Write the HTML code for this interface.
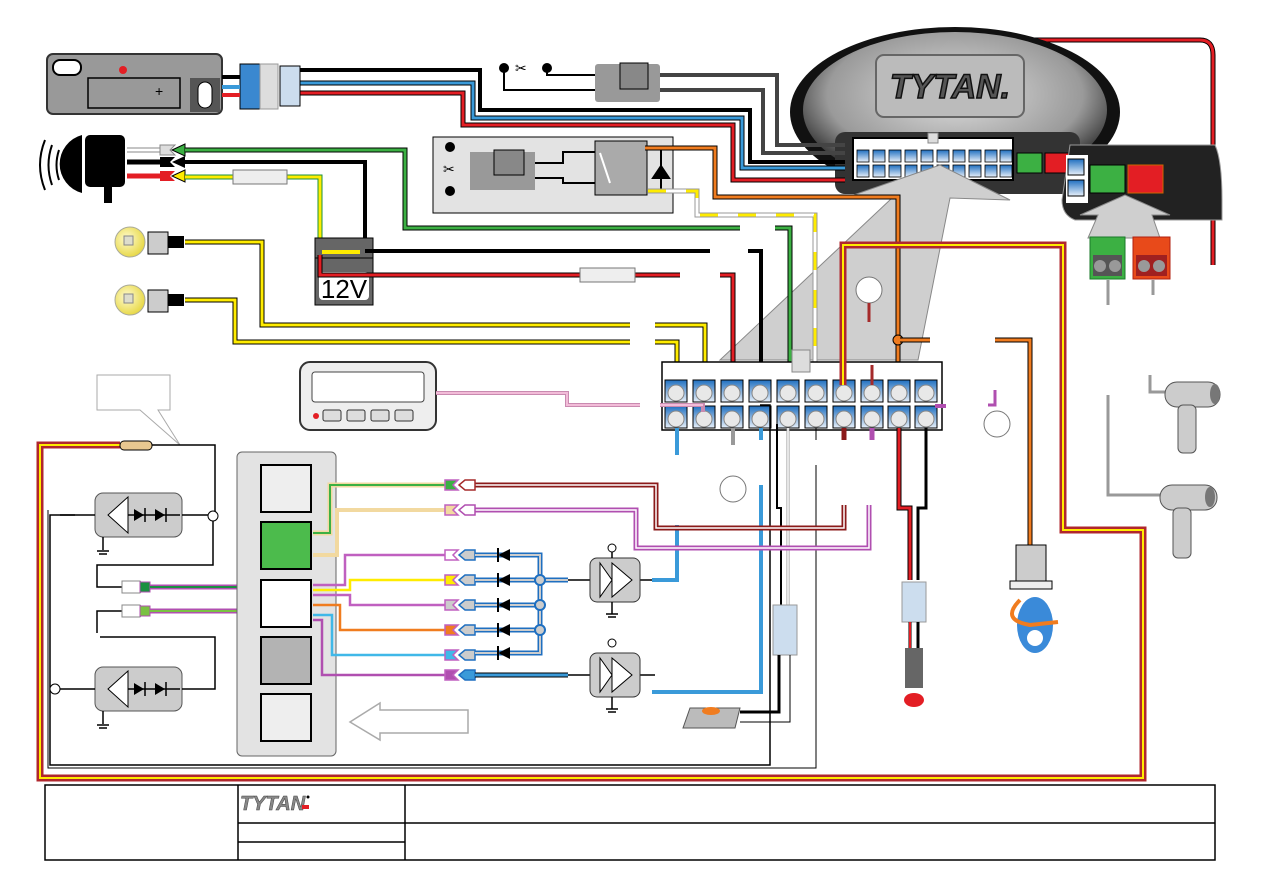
<!DOCTYPE html>
<html><head><meta charset="utf-8"><style>
html,body{margin:0;padding:0;background:#fff;width:1263px;height:893px;overflow:hidden}
svg{display:block;font-family:"Liberation Sans",sans-serif}
</style></head><body>
<svg width="1263" height="893" viewBox="0 0 1263 893" xmlns="http://www.w3.org/2000/svg">
<defs>
<radialGradient id="mod" cx="50%" cy="40%" r="60%"><stop offset="0" stop-color="#e0e0e0"/><stop offset="0.7" stop-color="#9a9a9a"/><stop offset="1" stop-color="#222"/></radialGradient>
<linearGradient id="pin" x1="0" y1="0" x2="0" y2="1"><stop offset="0" stop-color="#1f6fc0"/><stop offset="1" stop-color="#e8f0fa"/></linearGradient>
<radialGradient id="bulb" cx="40%" cy="40%" r="60%"><stop offset="0" stop-color="#fffbd0"/><stop offset="1" stop-color="#e8d94a"/></radialGradient>
</defs>
<g fill="none" stroke-linejoin="miter">

<!-- far right red -->
<path d="M1000,45 Q1010,40 1030,40 L1200,40 Q1213,40 1213,55 L1213,265" stroke="#000" stroke-width="5"/>
<path d="M1000,45 Q1010,40 1030,40 L1200,40 Q1213,40 1213,55 L1213,265" stroke="#e31e24" stroke-width="3"/>

<!-- module -->
<ellipse cx="955" cy="112" rx="165" ry="85" fill="#111"/>
<ellipse cx="955" cy="110" rx="152" ry="78" fill="url(#mod)"/>
<rect x="876" y="55" width="148" height="62" rx="8" fill="#bbb" stroke="#666" stroke-width="2"/>
<text x="950" y="98" font-size="34" font-weight="bold" font-style="italic" fill="#555" stroke="#111" stroke-width="1.5" text-anchor="middle">TYTAN.</text>
<rect x="835" y="132" width="245" height="62" rx="10" fill="#333"/>
<rect x="853" y="138" width="160" height="42" fill="#fff" stroke="#000" stroke-width="2"/>
<rect x="1017" y="153" width="25" height="20" fill="#3cb043" stroke="#000"/>
<rect x="1045" y="153" width="25" height="20" fill="#e31e24" stroke="#000"/>
<path d="M1070,145 L1215,145 Q1222,160 1222,200 L1222,220 L1075,220 Q1062,215 1062,200 Z" fill="#222" stroke="#999"/>
<rect x="1066" y="155" width="22" height="48" fill="#fff"/>
<rect x="1068" y="159" width="16" height="16" fill="url(#pin)" stroke="#000"/>
<rect x="1068" y="180" width="16" height="16" fill="url(#pin)" stroke="#000"/>
<rect x="1090" y="165" width="35" height="28" fill="#3cb043" stroke="#000"/>
<rect x="1128" y="165" width="35" height="28" fill="#e31e24" stroke="#c60"/>
<g fill="url(#pin)" stroke="#000" stroke-width="0.8">
<rect x="857" y="150" width="12" height="12"/><rect x="873" y="150" width="12" height="12"/><rect x="889" y="150" width="12" height="12"/><rect x="905" y="150" width="12" height="12"/><rect x="921" y="150" width="12" height="12"/><rect x="937" y="150" width="12" height="12"/><rect x="953" y="150" width="12" height="12"/><rect x="969" y="150" width="12" height="12"/><rect x="985" y="150" width="12" height="12"/><rect x="1000" y="150" width="12" height="12"/>
<rect x="857" y="165" width="12" height="12"/><rect x="873" y="165" width="12" height="12"/><rect x="889" y="165" width="12" height="12"/><rect x="905" y="165" width="12" height="12"/><rect x="921" y="165" width="12" height="12"/><rect x="937" y="165" width="12" height="12"/><rect x="953" y="165" width="12" height="12"/><rect x="969" y="165" width="12" height="12"/><rect x="985" y="165" width="12" height="12"/><rect x="1000" y="165" width="12" height="12"/>
</g>
<rect x="928" y="133" width="10" height="10" fill="#ddd" stroke="#888"/>

<!-- grey arrows (on top of module) -->
<polygon points="720,360 892,198 845,198 940,165 1010,200 950,198 918,360" fill="#cfcfcf" stroke="#888" stroke-width="1"/>
<polygon points="1088,238 1098,215 1080,215 1125,195 1170,215 1152,215 1160,238" fill="#cfcfcf" stroke="#888"/>

<!-- top wires to module -->
<path d="M300,70 L480,70 L480,110 L750,110 L750,162 L845,162" stroke="#000" stroke-width="4"/>
<path d="M300,83 L473,83 L473,118 L742,118 L742,168 L845,168" stroke="#000" stroke-width="5"/><path d="M300,83 L473,83 L473,118 L742,118 L742,168 L845,168" stroke="#3a9ad9" stroke-width="3"/>
<path d="M300,93 L463,93 L463,125 L733,125 L733,180 L845,180" stroke="#000" stroke-width="5"/><path d="M300,93 L463,93 L463,125 L733,125 L733,180 L845,180" stroke="#e31e24" stroke-width="3"/>
<path d="M660,75 L777,75 L777,145 L845,145" stroke="#444" stroke-width="4"/>
<path d="M660,90 L763,90 L763,153 L845,153" stroke="#444" stroke-width="4"/>
<circle cx="504" cy="68" r="5" fill="#000"/><circle cx="547" cy="68" r="5" fill="#000"/>
<text x="515" y="73" font-size="14" fill="#000">✂</text>
<path d="M504,68 L504,90 L597,90 M547,68 L547,75 L597,75" stroke="#000" stroke-width="2"/>
<rect x="595" y="64" width="65" height="38" rx="3" fill="#999"/><rect x="620" y="63" width="28" height="26" fill="#888" stroke="#000"/>

<!-- relay box -->
<rect x="433" y="137" width="240" height="76" fill="#e3e3e3" stroke="#000"/>
<circle cx="450" cy="147" r="5" fill="#000"/><circle cx="450" cy="191" r="5" fill="#000"/>
<text x="443" y="174" font-size="14" fill="#000">✂</text>
<rect x="470" y="152" width="65" height="38" fill="#999"/><rect x="494" y="150" width="30" height="25" fill="#888" stroke="#000"/>
<path d="M535,163 L563,163 L563,152 L595,152 M535,178 L563,178 L563,183 L595,183" stroke="#000" stroke-width="2"/>
<rect x="595" y="141" width="52" height="54" fill="#aaa" stroke="#000"/>
<path d="M600,153 L610,183" stroke="#fff" stroke-width="2"/>
<path d="M661,148 L661,190 M653,178 L669,178 L661,166 Z" stroke="#000" stroke-width="2" fill="#000"/>
<path d="M645,148 L715,148 L715,197 L898,197 L898,385" stroke="#000" stroke-width="5"/><path d="M645,148 L715,148 L715,197 L898,197 L898,385" stroke="#f07c1f" stroke-width="3"/>
<path d="M648,191 L697,191 L697,215 L815,215 L815,385" stroke="#999" stroke-width="5"/><path d="M648,191 L697,191 L697,215 L815,215 L815,385" stroke="#fff" stroke-width="3" /><path d="M648,191 L697,191 L697,215 L815,215 L815,385" stroke="#ffec00" stroke-width="3" stroke-dasharray="18,20"/>

<!-- fob -->
<rect x="47" y="54" width="175" height="60" rx="6" fill="#999" stroke="#333" stroke-width="2"/>
<rect x="53" y="60" width="28" height="15" rx="7" fill="#fff" stroke="#000" stroke-width="2"/>
<rect x="88" y="78" width="92" height="30" fill="#999" stroke="#000" stroke-width="1.5"/>
<circle cx="123" cy="70" r="4" fill="#e31e24"/>
<rect x="190" y="78" width="30" height="34" fill="#555"/><rect x="198" y="82" width="14" height="26" rx="7" fill="#fff" stroke="#000"/>
<text x="155" y="96" font-size="14" fill="#000">+</text>
<rect x="240" y="64" width="20" height="45" fill="#3a88d0" stroke="#000"/><rect x="260" y="64" width="18" height="45" fill="#ddd" stroke="#999"/><rect x="280" y="66" width="20" height="40" fill="#cde" stroke="#000"/>
<path d="M222,77 L240,77" stroke="#000" stroke-width="4"/><path d="M222,87 L240,87" stroke="#3a9ad9" stroke-width="4"/><path d="M222,95 L240,95" stroke="#e31e24" stroke-width="4"/>

<!-- siren -->
<path d="M45,140 Q35,165 45,190 M52,145 Q45,165 52,185 M59,150 Q54,165 59,180" stroke="#000" stroke-width="2"/>
<path d="M82,135 A30,30 0 0 0 82,193 Z" fill="#000"/>
<rect x="85" y="135" width="40" height="52" rx="5" fill="#000"/>
<rect x="104" y="165" width="8" height="38" fill="#000"/>
<path d="M127,150 L165,150" stroke="#888" stroke-width="5"/><path d="M127,150 L165,150" stroke="#fff" stroke-width="3"/>
<path d="M127,162 L165,162" stroke="#000" stroke-width="5"/>
<path d="M127,176 L165,176" stroke="#e31e24" stroke-width="5"/>
<polygon points="160,145 175,145 170,150 175,155 160,155" fill="#ddd" stroke="#888"/>
<polygon points="160,157 175,157 170,162 175,167 160,167" fill="#000"/>
<polygon points="160,171 175,171 170,176 175,181 160,181" fill="#e31e24"/>
<polygon points="185,144 172,150 185,156" fill="#3cb043" stroke="#000"/>
<polygon points="185,156 172,162 185,168" fill="#000"/>
<polygon points="185,170 172,176 185,182" fill="#ffec00" stroke="#000"/>
<path d="M185,150 L405,150 L405,228 L740,228" stroke="#000" stroke-width="5"/><path d="M185,150 L405,150 L405,228 L740,228" stroke="#3cb043" stroke-width="3"/>
<path d="M775,228 L790,228 L790,385" stroke="#000" stroke-width="5"/><path d="M775,228 L790,228 L790,385" stroke="#3cb043" stroke-width="3"/>
<path d="M185,162 L365,162 L365,250" stroke="#000" stroke-width="4"/>
<path d="M185,177 L320,177 L320,255" stroke="#1a9040" stroke-width="5"/><path d="M185,177 L320,177 L320,255" stroke="#ffec00" stroke-width="3"/>
<rect x="233" y="170" width="54" height="14" fill="#eee" stroke="#777"/>

<!-- battery -->
<rect x="315" y="238" width="58" height="20" fill="#666" stroke="#000"/>
<rect x="315" y="258" width="58" height="47" fill="#666" stroke="#000"/>
<rect x="319" y="272" width="50" height="28" rx="4" fill="#fff"/>
<text x="344" y="298" font-size="26" text-anchor="middle" fill="#000">12V</text>
<path d="M322,252 L360,252" stroke="#ffec00" stroke-width="4"/>
<path d="M320,255 L320,275 L580,275 M635,275 L680,275 M720,275 L733,275 L733,385" stroke="#000" stroke-width="5"/>
<path d="M320,255 L320,275 L580,275 M635,275 L680,275 M720,275 L733,275 L733,385" stroke="#e31e24" stroke-width="3"/>
<rect x="580" y="268" width="55" height="14" fill="#eee" stroke="#777"/>
<path d="M365,251 L710,251 M748,251 L761,251 L761,385" stroke="#000" stroke-width="4"/>

<!-- bulbs -->
<circle cx="130" cy="242" r="15" fill="url(#bulb)" stroke="#aa9"/><circle cx="130" cy="300" r="15" fill="url(#bulb)" stroke="#aa9"/>
<rect x="148" y="232" width="20" height="22" fill="#ccc" stroke="#000"/><rect x="148" y="290" width="20" height="22" fill="#ccc" stroke="#000"/>
<rect x="124" y="236" width="9" height="9" fill="#ddc" stroke="#888"/><rect x="124" y="294" width="9" height="9" fill="#ddc" stroke="#888"/>
<path d="M185,242 L262,242 L262,325 L630,325 M655,325 L705,325 L705,385" stroke="#000" stroke-width="5"/><path d="M185,242 L262,242 L262,325 L630,325 M655,325 L705,325 L705,385" stroke="#ffec00" stroke-width="3"/>
<path d="M185,300 L235,300 L235,342 L630,342 M655,342 L677,342 L677,385" stroke="#000" stroke-width="5"/><path d="M185,300 L235,300 L235,342 L630,342 M655,342 L677,342 L677,385" stroke="#ffec00" stroke-width="3"/>
<rect x="168" y="236" width="16" height="12" fill="#000"/><rect x="168" y="294" width="16" height="12" fill="#000"/>

<!-- main connector -->
<rect x="662" y="362" width="280" height="68" fill="#fff" stroke="#000" stroke-width="1.5"/>
<rect x="792" y="350" width="18" height="22" fill="#ddd" stroke="#888"/>
<g stroke="#000" stroke-width="1">
<rect x="665" y="380" width="22" height="22" fill="url(#pin)"/><rect x="693" y="380" width="22" height="22" fill="url(#pin)"/><rect x="721" y="380" width="22" height="22" fill="url(#pin)"/><rect x="749" y="380" width="22" height="22" fill="url(#pin)"/><rect x="777" y="380" width="22" height="22" fill="url(#pin)"/><rect x="805" y="380" width="22" height="22" fill="url(#pin)"/><rect x="833" y="380" width="22" height="22" fill="url(#pin)"/><rect x="861" y="380" width="22" height="22" fill="url(#pin)"/><rect x="888" y="380" width="22" height="22" fill="url(#pin)"/><rect x="915" y="380" width="22" height="22" fill="url(#pin)"/>
<rect x="665" y="406" width="22" height="22" fill="url(#pin)"/><rect x="693" y="406" width="22" height="22" fill="url(#pin)"/><rect x="721" y="406" width="22" height="22" fill="url(#pin)"/><rect x="749" y="406" width="22" height="22" fill="url(#pin)"/><rect x="777" y="406" width="22" height="22" fill="url(#pin)"/><rect x="805" y="406" width="22" height="22" fill="url(#pin)"/><rect x="833" y="406" width="22" height="22" fill="url(#pin)"/><rect x="861" y="406" width="22" height="22" fill="url(#pin)"/><rect x="888" y="406" width="22" height="22" fill="url(#pin)"/><rect x="915" y="406" width="22" height="22" fill="url(#pin)"/>
</g>
<g fill="#e8e8e8" stroke="#888"><circle cx="676" cy="393" r="8"/><circle cx="704" cy="393" r="8"/><circle cx="732" cy="393" r="8"/><circle cx="760" cy="393" r="8"/><circle cx="788" cy="393" r="8"/><circle cx="816" cy="393" r="8"/><circle cx="844" cy="393" r="8"/><circle cx="872" cy="393" r="8"/><circle cx="899" cy="393" r="8"/><circle cx="926" cy="393" r="8"/>
<circle cx="676" cy="419" r="8"/><circle cx="704" cy="419" r="8"/><circle cx="732" cy="419" r="8"/><circle cx="760" cy="419" r="8"/><circle cx="788" cy="419" r="8"/><circle cx="816" cy="419" r="8"/><circle cx="844" cy="419" r="8"/><circle cx="872" cy="419" r="8"/><circle cx="899" cy="419" r="8"/><circle cx="926" cy="419" r="8"/></g>
<path d="M844,365 L844,385" stroke="#a52a2a" stroke-width="4"/><path d="M872,365 L872,385" stroke="#a52a2a" stroke-width="3"/>
<path d="M935,406 L946,406" stroke="#b04fb0" stroke-width="4"/>
<path d="M988,405 L995,405 L995,390" stroke="#b04fb0" stroke-width="3"/>
<path d="M760,405 L770,405 L770,765 L50,765 L50,515 L75,515" stroke="#000" stroke-width="1.5"/>

<!-- orange circle and sensor -->
<circle cx="898" cy="340" r="5" fill="#f07c1f" stroke="#000"/>
<path d="M900,340 L930,340 M995,340 L1030,340 L1030,545" stroke="#000" stroke-width="5"/><path d="M900,340 L930,340 M995,340 L1030,340 L1030,545" stroke="#f07c1f" stroke-width="3"/>
<rect x="1016" y="545" width="30" height="36" fill="#ccc" stroke="#000"/><rect x="1010" y="581" width="42" height="8" fill="#eee" stroke="#000"/>
<ellipse cx="1035" cy="625" rx="18" ry="28" fill="#3a8ad9"/><circle cx="1035" cy="638" r="8" fill="#fff"/>
<path d="M1020,600 Q1000,620 1030,625 L1058,622" stroke="#f07c1f" stroke-width="4"/>

<!-- yellow/red outer -->
<path d="M843,385 L843,245 L1063,245 L1063,530 L1143,530 L1143,778 L40,778 L40,445 L120,445" stroke="#b0272d" stroke-width="7"/>
<path d="M843,385 L843,245 L1063,245 L1063,530 L1143,530 L1143,778 L40,778 L40,445 L120,445" stroke="#ffec00" stroke-width="2"/>
<circle cx="869" cy="290" r="13" fill="#fff" stroke="#777"/><path d="M869,303 L869,322" stroke="#a52a2a" stroke-width="3"/>
<circle cx="997" cy="424" r="13" fill="#fff" stroke="#777"/>
<circle cx="733" cy="489" r="13" fill="#fff" stroke="#777"/>

<!-- lower wires from connector -->
<path d="M677,428 L677,455 M677,525 L677,580 L655,580" stroke="#3a9ad9" stroke-width="4"/>
<path d="M733,428 L733,445" stroke="#999" stroke-width="4"/>
<path d="M761,428 L761,440 M761,485 L761,692 L655,692" stroke="#3a9ad9" stroke-width="4"/>
<path d="M777,424 L777,508 L781,508 L781,610" stroke="#000" stroke-width="2"/>
<path d="M788,428 L788,610" stroke="#999" stroke-width="3"/><path d="M788,428 L788,610" stroke="#fff" stroke-width="1.5"/>
<path d="M816,428 L816,440 M816,465 L816,768 L48,768 L48,510" stroke="#000" stroke-width="1"/>
<path d="M844,428 L844,440 M844,505 L844,528 L656,528 L656,485 L475,485" stroke="#8b1a1a" stroke-width="5"/><path d="M844,505 L844,528 L656,528 L656,485 L475,485" stroke="#fff" stroke-width="1.5"/>
<path d="M872,428 L872,440 M869,505 L869,548 L636,548 L636,510 L475,510" stroke="#b04fb0" stroke-width="5"/><path d="M869,505 L869,548 L636,548 L636,510 L475,510" stroke="#fff" stroke-width="1.5"/>
<path d="M899,428 L899,508 L910,508 L910,580" stroke="#000" stroke-width="5"/><path d="M899,428 L899,508 L910,508 L910,580" stroke="#e31e24" stroke-width="3"/>
<path d="M926,428 L926,508 L918,508 L918,580" stroke="#000" stroke-width="3"/>
<rect x="902" y="582" width="24" height="40" fill="#cde" stroke="#999"/>
<path d="M910,622 L910,660 M918,622 L918,660" stroke="#000" stroke-width="3"/><path d="M910,622 L910,660" stroke="#e31e24" stroke-width="2"/>
<rect x="905" y="648" width="18" height="40" fill="#666"/><ellipse cx="914" cy="700" rx="10" ry="7" fill="#e31e24"/>
<rect x="773" y="605" width="24" height="50" fill="#cde" stroke="#999"/>
<path d="M779,655 L779,712 L740,712" stroke="#000" stroke-width="3"/><path d="M790,655 L790,722 L740,722" stroke="#000" stroke-width="1"/>
<polygon points="690,708 740,708 735,728 683,728" fill="#bbb" stroke="#555"/><ellipse cx="711" cy="711" rx="9" ry="4" fill="#f07c1f"/>

<!-- LCD -->
<rect x="300" y="362" width="136" height="68" rx="10" fill="#eee" stroke="#333" stroke-width="2"/>
<rect x="312" y="372" width="112" height="30" rx="3" fill="#fff" stroke="#444"/>
<circle cx="316" cy="416" r="3" fill="#e31e24"/>
<g fill="#ddd" stroke="#333"><rect x="323" y="410" width="18" height="11" rx="2"/><rect x="347" y="410" width="18" height="11" rx="2"/><rect x="371" y="410" width="18" height="11" rx="2"/><rect x="395" y="410" width="18" height="11" rx="2"/></g>
<path d="M436,393 L567,393 L567,405 L640,405 M660,405 L703,405 L703,412" stroke="#c98ab0" stroke-width="4"/><path d="M436,393 L567,393 L567,405 L640,405 M660,405 L703,405" stroke="#f2bcd8" stroke-width="2"/>

<!-- callout -->
<path d="M97,375 L170,375 L170,410 L158,410 L180,445 L140,410 L97,410 Z" fill="#fff" stroke="#aaa"/>
<rect x="120" y="441" width="32" height="9" rx="4" fill="#e8c890" stroke="#000"/>
<path d="M152,445 L215,445 L215,515 L213,515" stroke="#000" stroke-width="1.5"/>

<!-- receivers -->
<rect x="95" y="493" width="87" height="44" rx="8" fill="#ccc" stroke="#555"/>
<rect x="95" y="667" width="87" height="44" rx="8" fill="#ccc" stroke="#555"/>
<path d="M128,497 L108,515 L128,533 Z M128,671 L108,689 L128,707 Z" fill="#fff" stroke="#000"/>
<path d="M134,509 L134,521 L144,515 Z M155,509 L155,521 L165,515 Z M134,683 L134,695 L144,689 Z M155,683 L155,695 L165,689 Z" fill="#000"/>
<path d="M145,508 L145,522 M166,508 L166,522 M145,682 L145,696 M166,682 L166,696 M128,515 L180,515 M128,689 L180,689" stroke="#000" stroke-width="1.5"/>
<path d="M60,515 L95,515 M182,515 L210,515 M213,520 L213,565 L97,565 L97,587 L122,587 M97,633 L97,611 L122,611 M100,637 L215,637 L215,689 L182,689 M60,689 L95,689 M103,537 L103,550 M103,711 L103,724" stroke="#000" stroke-width="1.5"/>
<circle cx="213" cy="516" r="5" fill="#fff" stroke="#000"/><circle cx="55" cy="689" r="5" fill="#fff" stroke="#000"/>
<path d="M97,551 L109,551 M99,554 L107,554 M97,725 L109,725 M99,728 L107,728" stroke="#000" stroke-width="1.5"/>
<polygon points="122,581 140,581 146,587 140,593 122,593" fill="#fff" stroke="#888"/><rect x="140" y="582" width="10" height="10" fill="#1a9040" stroke="#b04fb0"/>
<polygon points="122,605 140,605 146,611 140,617 122,617" fill="#fff" stroke="#888"/><rect x="140" y="606" width="10" height="10" fill="#7ac142" stroke="#b04fb0"/>
<path d="M150,587 L240,587 L240,595 L262,595" stroke="#b04fb0" stroke-width="5"/><path d="M150,587 L240,587 L240,595 L262,595" stroke="#1a9040" stroke-width="2"/>
<path d="M150,611 L262,611" stroke="#b04fb0" stroke-width="5"/><path d="M150,611 L262,611" stroke="#7ac142" stroke-width="2"/>

<!-- grey panel -->
<rect x="237" y="452" width="99" height="304" rx="5" fill="#e3e3e3" stroke="#666"/>
<rect x="261" y="465" width="50" height="47" fill="#eee" stroke="#000" stroke-width="2"/>
<rect x="261" y="522" width="50" height="47" fill="#4cbb4c" stroke="#000" stroke-width="2"/>
<rect x="261" y="580" width="50" height="47" fill="#fff" stroke="#000" stroke-width="2"/>
<rect x="261" y="637" width="50" height="47" fill="#b3b3b3" stroke="#000" stroke-width="2"/>
<rect x="261" y="694" width="50" height="47" fill="#eee" stroke="#000" stroke-width="2"/>
<path d="M313,533 L330,533 L330,485 L445,485" stroke="#f2d9a0" stroke-width="5"/><path d="M313,533 L330,533 L330,485 L445,485" stroke="#3cb043" stroke-width="2"/>
<path d="M313,555 L337,555 L337,510 L445,510" stroke="#f2d9a0" stroke-width="4"/>
<g stroke-width="2.5">
<path d="M313,585 L345,585 L345,555 L445,555" stroke="#c060c0"/>
<path d="M313,590 L350,590 L350,580 L445,580" stroke="#ffec00"/>
<path d="M313,595 L350,595 L350,605 L445,605" stroke="#c060c0"/>
<path d="M313,605 L340,605 L340,630 L445,630" stroke="#f07c1f"/>
<path d="M313,615 L332,615 L332,655 L445,655" stroke="#40b8e8"/>
<path d="M313,620 L322,620 L322,675 L445,675" stroke="#b04fb0"/>
</g>
<g stroke="#c060c0" stroke-width="1.5">
<polygon points="445,480 458,480 453,485 458,490 445,490" fill="#3cb043"/>
<polygon points="445,505 458,505 453,510 458,515 445,515" fill="#f2d9a0"/>
<polygon points="445,550 458,550 453,555 458,560 445,560" fill="#fff"/>
<polygon points="445,575 458,575 453,580 458,585 445,585" fill="#ffec00"/>
<polygon points="445,600 458,600 453,605 458,610 445,610" fill="#ccc"/>
<polygon points="445,625 458,625 453,630 458,635 445,635" fill="#f07c1f"/>
<polygon points="445,650 458,650 453,655 458,660 445,660" fill="#40b8e8"/>
<polygon points="445,670 458,670 453,675 458,680 445,680" fill="#b04fb0"/>
</g>
<g stroke="#a52a2a" stroke-width="1.5" fill="#fff"><polygon points="475,480 465,480 459,485 465,490 475,490"/></g>
<g stroke="#b04fb0" stroke-width="1.5" fill="#fff"><polygon points="475,505 465,505 459,510 465,515 475,515"/></g>
<g stroke="#1f6fc0" stroke-width="1.5" fill="#ccc">
<polygon points="475,550 465,550 459,555 465,560 475,560"/><polygon points="475,575 465,575 459,580 465,585 475,585"/><polygon points="475,600 465,600 459,605 465,610 475,610"/><polygon points="475,625 465,625 459,630 465,635 475,635"/><polygon points="475,650 465,650 459,655 465,660 475,660"/><polygon points="475,670 465,670 459,675 465,680 475,680" fill="#3a9ad9"/>
</g>
<g stroke="#1f6fc0" stroke-width="5"><path d="M475,555 L540,555 L540,653 L475,653 M475,580 L568,580 M475,605 L540,605 M475,630 L540,630"/></g>
<g stroke="#ccc" stroke-width="2"><path d="M475,555 L540,555 L540,653 L475,653 M475,580 L568,580 M475,605 L540,605 M475,630 L540,630"/></g>
<path d="M475,675 L568,675" stroke="#000" stroke-width="5"/><path d="M475,675 L568,675" stroke="#3a9ad9" stroke-width="3"/>
<g fill="#000"><path d="M498,555 L510,549 L510,561 Z M498,580 L510,574 L510,586 Z M498,605 L510,599 L510,611 Z M498,630 L510,624 L510,636 Z M498,653 L510,647 L510,659 Z"/></g>
<path d="M498,548 L498,562 M498,573 L498,587 M498,598 L498,612 M498,623 L498,637 M498,646 L498,660" stroke="#000" stroke-width="2"/>
<g fill="#ccc" stroke="#1f6fc0" stroke-width="2"><circle cx="540" cy="580" r="5"/><circle cx="540" cy="605" r="5"/><circle cx="540" cy="630" r="5"/></g>
<path d="M568,580 L590,580 M568,675 L590,675 M640,580 L655,580 M640,675 L655,675" stroke="#000" stroke-width="1.5"/>
<path d="M652,580 L677,580 M652,692 L761,692" stroke="#3a9ad9" stroke-width="4"/>
<rect x="590" y="558" width="50" height="44" rx="7" fill="#ccc" stroke="#333"/><rect x="590" y="653" width="50" height="44" rx="7" fill="#ccc" stroke="#333"/>
<path d="M600,563 L612,580 L600,597 Z M612,563 L632,580 L612,597 Z M600,658 L612,675 L600,692 Z M612,658 L632,675 L612,692 Z" fill="#fff" stroke="#000"/>
<circle cx="612" cy="548" r="4" fill="#fff" stroke="#000"/><circle cx="612" cy="643" r="4" fill="#fff" stroke="#000"/>
<path d="M612,552 L612,558 M612,602 L612,614 M606,614 L618,614 M612,697 L612,709 M606,709 L618,709 M608,617 L616,617 M608,712 L616,712" stroke="#000" stroke-width="1.5"/>
<polygon points="468,710 380,710 380,703 350,722 380,740 380,733 468,733" fill="#fff" stroke="#aaa" stroke-width="1.5"/>

<!-- right horns -->
<path d="M1108,280 L1108,305 M1153,280 L1153,295 M1150,375 L1150,392 L1165,392 M1108,395 L1108,495 L1160,495" stroke="#999" stroke-width="3"/>
<rect x="1090" y="237" width="35" height="42" fill="#3cb043" stroke="#1a7a2a"/><rect x="1133" y="237" width="37" height="42" fill="#e84a1a" stroke="#b02010"/>
<rect x="1093" y="255" width="29" height="21" fill="#555"/><rect x="1136" y="255" width="31" height="21" fill="#a02020"/>
<circle cx="1100" cy="266" r="6" fill="#999"/><circle cx="1115" cy="266" r="6" fill="#999"/><circle cx="1144" cy="266" r="6" fill="#999"/><circle cx="1159" cy="266" r="6" fill="#999"/>
<rect x="1165" y="382" width="55" height="25" rx="12" fill="#ccc" stroke="#555"/><ellipse cx="1215" cy="394" rx="5" ry="10" fill="#777"/>
<rect x="1178" y="405" width="18" height="48" rx="5" fill="#ccc" stroke="#555"/>
<rect x="1160" y="485" width="57" height="25" rx="12" fill="#ccc" stroke="#555"/><ellipse cx="1210" cy="497" rx="5" ry="10" fill="#777"/>
<rect x="1173" y="508" width="18" height="50" rx="5" fill="#ccc" stroke="#555"/>

<!-- table -->
<rect x="45" y="785" width="1170" height="75" fill="#fff" stroke="#000" stroke-width="1.5"/>
<path d="M238,785 L238,860 M405,785 L405,860 M238,823 L1215,823 M238,842 L405,842" stroke="#000" stroke-width="1.5"/>
<text x="240" y="810" font-size="20" font-weight="bold" font-style="italic" fill="#888" stroke="#444" stroke-width="0.5">TYTAN</text>
<rect x="302" y="805" width="7" height="4" fill="#e31e24"/><circle cx="308" cy="797" r="1.5" fill="#000"/>
</g>
</svg>
</body></html>
